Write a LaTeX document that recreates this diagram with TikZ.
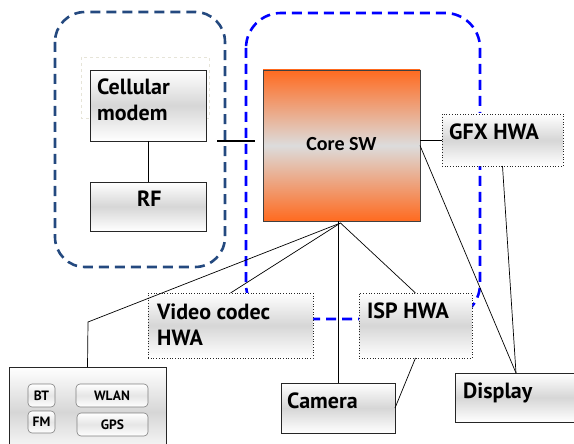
\documentclass[tikz,border=0pt]{standalone}
\usepackage{fontspec}
\setmainfont{PT Sans}
\newfontfamily\corefont{Carlito}
\usetikzlibrary{calc}
\definecolor{coreorange}{HTML}{FF6A1F}
\definecolor{coregrey}{HTML}{DCDCDC}
\definecolor{navydash}{HTML}{24497F}
\definecolor{ghost}{HTML}{E6E4D8}
\begin{document}
\begin{tikzpicture}[x=1pt,y=-1pt,
  unit/.style={anchor=north west, inner sep=0pt, outer sep=0pt,
    top color=white, bottom color=white, middle color=black!16},
  solidbox/.style={unit, draw=black!85, line width=0.8pt},
  dotbox/.style={unit, draw=black!85, line width=0.7pt, dotted},
  chip/.style={unit, draw=black!50, line width=0.6pt, rounded corners=4pt,
    top color=white, bottom color=white, middle color=black!10,
    font=\fontsize{13.5}{14}\selectfont\bfseries},
  lbl/.style={anchor=base west, inner sep=0pt, align=left,
    font=\fontsize{22}{26}\selectfont\bfseries},
  link/.style={draw=black, line width=0.7pt},
  zoneline/.style={line width=2.6pt, dash pattern=on 10pt off 6pt},
]
\useasboundingbox (0,0) rectangle (574,444);
\clip (0,0) rectangle (574,444);

% domain outlines
\draw[zoneline, navydash, rounded corners=30pt] (55,12) rectangle (225,267);
\draw[zoneline, blue, rounded corners=35pt] (246,13) rectangle (480,319);
\draw[ghost, dashed, line width=0.8pt] (81,57) rectangle (209,118);

% boxes
\node[solidbox, minimum width=116pt, minimum height=71pt] (cm) at (90,70) {};
\node[solidbox, minimum width=116pt, minimum height=49pt] (rf) at (90,182) {};
\node[unit, draw=black!75, line width=0.8pt, top color=coreorange, bottom color=coreorange,
      middle color=coregrey, minimum width=157pt, minimum height=151pt] (core) at (263,70) {};
\node[dotbox, minimum width=121pt, minimum height=52pt] (gfx) at (442,114) {};
\node[dotbox, minimum width=165pt, minimum height=65pt] (vid) at (148,293) {};
\node[dotbox, minimum width=113pt, minimum height=65pt] (isp) at (359,293) {};
\node[solidbox, minimum width=114pt, minimum height=50pt] (cam) at (281,383) {};
\node[solidbox, minimum width=130pt, minimum height=49pt] (disp) at (455,373) {};
\node[solidbox, minimum width=157pt, minimum height=90pt] (conn) at (9,367) {};

% radios inside the connectivity block
\node[chip, minimum width=27pt, minimum height=23pt] (bt) at (28,384) {BT};
\node[chip, minimum width=72pt, minimum height=23pt] (wlan) at (76,384) {WLAN};
\node[chip, minimum width=27pt, minimum height=22pt] (fm) at (28,411) {FM};
\node[chip, minimum width=71pt, minimum height=23pt] (gps) at (77,413) {GPS};

% connectors
\coordinate (mcA) at (217,141);
\coordinate (mcB) at (255,141);
\coordinate (hub) at ($(core.south)+(-1,2)$);
\coordinate (bend) at (88,322);
\coordinate (dtop) at ($(disp.north west)+(61,0)$);
\draw[link] (cm.south) -- (rf.north);
\draw[link, line width=1.6pt] (mcA) -- (mcB);
\draw[link] (core.east |- gfx.west) -- (gfx.west);
\draw[link] (hub) -- (bend) -- (conn.north);
\draw[link] (hub) -- (vid.north);
\draw[link] (cam.north |- core.south) -- (cam.north);
\draw[link] (hub) -- (isp.north);
\draw[link] (core.east) -- (dtop);
\draw[link] (gfx.south) -- (dtop);
\draw[link] (isp.south) -- (cam.east);

% labels (multi-line labels sit on the baseline of their last line)
\node[lbl] (cmtxt) at (97,121) {Cellular\\modem};
\node[lbl] (rftxt) at (137,207) {RF};
\node[anchor=center, inner sep=0pt, font=\fontsize{20}{21}\selectfont\corefont\bfseries]
  (coretxt) at ($(core.center)+(0,-1)$) {Core SW};
\node[lbl] (gfxtxt) at (449,140) {GFX HWA};
\node[lbl] (vidtxt) at (157,345) {Video codec\\HWA};
\node[lbl] (isptxt) at (367,318) {ISP HWA};
\node[lbl] (camtxt) at (287,408) {Camera};
\node[lbl] (disptxt) at (463,398) {Display};
\end{tikzpicture}
\end{document}
